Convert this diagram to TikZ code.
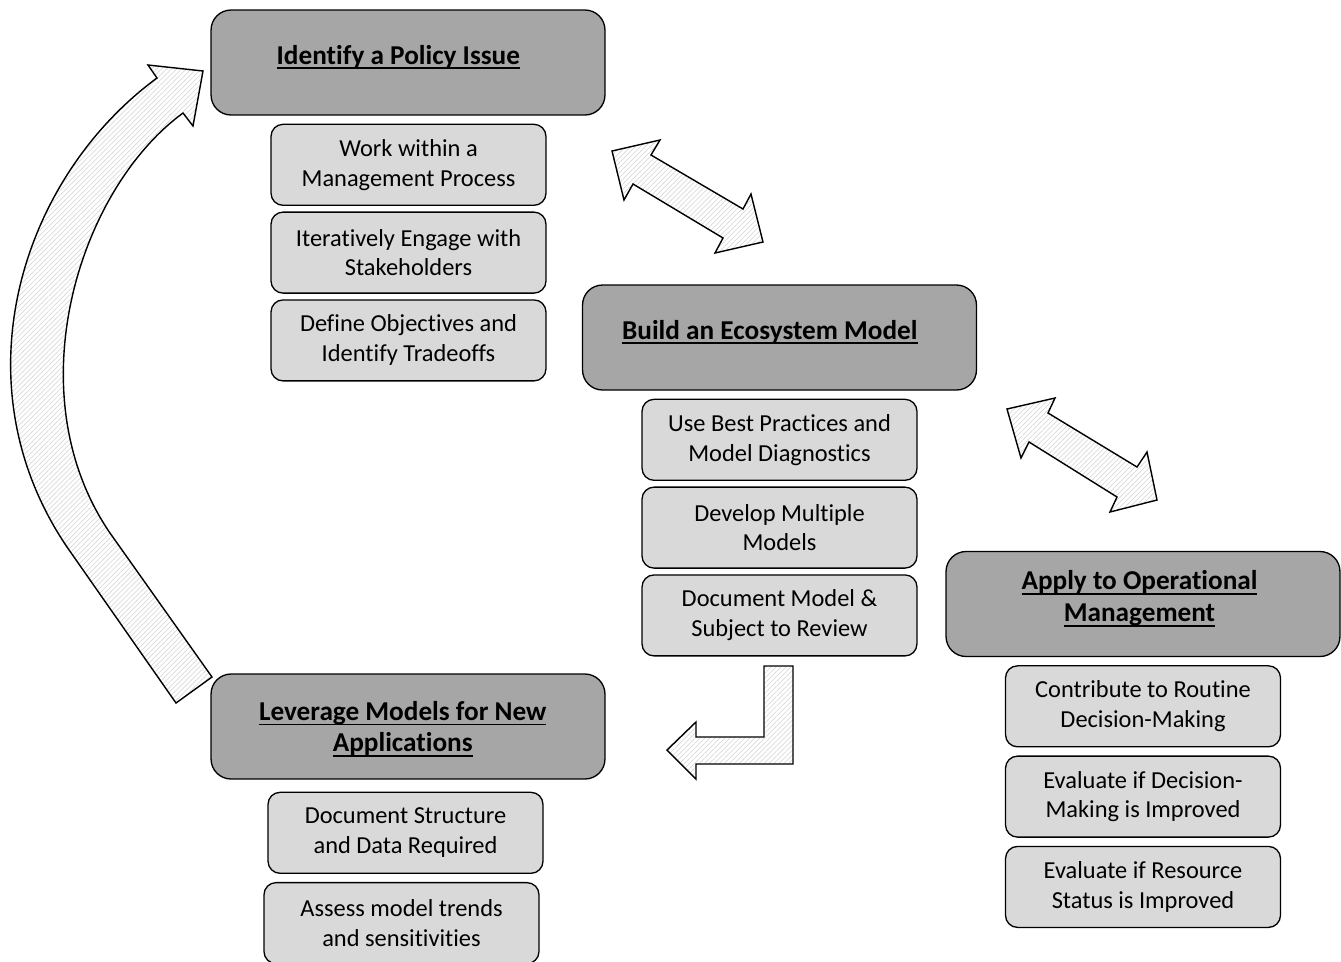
\documentclass[tikz,border=0pt]{standalone}
\usepackage{fontspec}
\setmainfont{Carlito}[Ligatures={NoCommon}]
\usepackage{tikz}
\usetikzlibrary{positioning,patterns.meta}
\definecolor{phasegray}{RGB}{166,166,166}
\definecolor{taskgray}{RGB}{217,217,217}
\newcommand{\phaseul}[1]{\setbox0\hbox{#1}\rlap{\rule[-3pt]{\wd0}{1.1pt}}\box0}
\newcommand{\padright}[1]{\hbox to #1{}}
\tikzset{
		blockarrow/.style={draw, line width=0.8pt, line join=miter,
			preaction={fill=white},
			pattern={Lines[angle=45,distance=2pt,line width=0.3pt]},
			pattern color=gray!35},
		}

\begin{document}
\begin{tikzpicture}[x=0.02cm,y=-0.02cm,node distance=0.11cm]
					\tikzstyle{phase}=[draw, line width=0.75pt, fill=phasegray, rounded corners=0.4cm,
						minimum width=7.88cm, minimum height=2.1cm, align=center, text depth=9pt,
						font=\fontsize{15.5}{18.1}\selectfont\bfseries]
					\tikzstyle{task}=[draw, line width=0.75pt, fill=taskgray, rounded corners=0.24cm,
						minimum width=5.5cm, minimum height=1.62cm, align=center,
						font=\fontsize{13.9}{17}\selectfont]
					\useasboundingbox (0,0) rectangle (1341,961);
					%PHASE 1
					\node[phase](policy) at (408,62.5){\phaseul{Identify a Policy Issue}\padright{11pt}};
					\node[task](mgmt)[below=0.16cm of policy, xshift=0.01cm]{Work within a\\Management Process};
					\node[task](stake)[below=of mgmt]{Iteratively Engage with\\Stakeholders};
					\node[task](tradeoff)[below=of stake]{Define Objectives and\\Identify Tradeoffs};
					%PHASE 2
					\node[phase](model) at (779.5,337.5){\phaseul{Build an Ecosystem Model}\padright{11pt}};
					\node[task](best)[below=0.16cm of model]{Use Best Practices and\\Model Diagnostics};
					\node[task](multi)[below=of best]{Develop Multiple\\Models};
					\node[task](review)[below=of multi]{Document Model \&\\Subject to Review};
					%PHASE 3
					\node[phase](apply) at (1143,604){\phaseul{Apply to Operational}\padright{4pt}\\\phaseul{Management}\padright{4pt}};
					\node[task](routine)[below=0.16cm of apply]{Contribute to Routine\\Decision-Making};
					\node[task](decision)[below=0.16cm of routine]{Evaluate if Decision-\\Making is Improved};
					\node[task](status)[below=0.16cm of decision]{Evaluate if Resource\\Status is Improved};
					%PHASE 4
					\node[phase,text depth=0pt](leverage) at (408,726.5){\phaseul{Leverage Models for New}\padright{6pt}\\\phaseul{Applications}\padright{6pt}};
					\node[task](structure)[below=0.24cm of leverage, xshift=-0.05cm]{Document Structure\\and Data Required};
					\node[task](trends)[below=0.16cm of structure, xshift=-0.08cm]{Assess model trends\\and sensitivities};
					%ARROWS
					\draw[blockarrow] (612,151) -- (660,140) -- (651,155) -- (743,209) -- (751,194)
						-- (763,242) -- (715,253) -- (723,238) -- (633,184) -- (624,200) -- cycle;
					\draw[blockarrow] (1007,409) -- (1055,398) -- (1048,413) -- (1137,467) -- (1147,452)
						-- (1157,500) -- (1110,512) -- (1117,497) -- (1029,442) -- (1021,458) -- cycle;
					\draw[blockarrow] (764,666) -- (793,666) -- (793,764) -- (696,764) -- (696,779)
						-- (667,750) -- (696,722) -- (696,737) -- (764,737) -- cycle;
					\draw[blockarrow] (176,703) -- (67,547) .. controls (-44,383) and (21,178) .. (157,78)
						-- (148,65) -- (203,71) -- (193,126) -- (183,113)
						.. controls (78,190) and (15,394) .. (110,533) -- (212,677) -- cycle;
				\end{tikzpicture}
\end{document}
